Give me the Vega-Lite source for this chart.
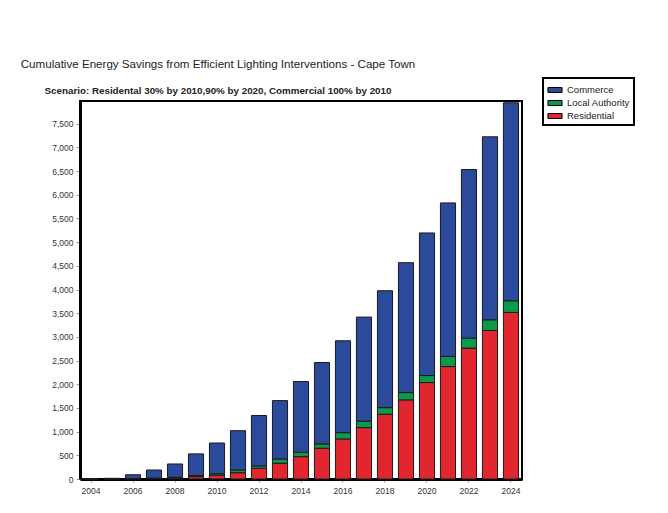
{
  "$schema": "https://vega.github.io/schema/vega-lite/v6.json",
  "autosize": "none",
  "width": 442,
  "height": 378,
  "padding": {"left": 80, "top": 101, "right": 146, "bottom": 34},
  "background": "white",
  "title": {
    "text": "Cumulative Energy Savings from Efficient Lighting Interventions - Cape Town",
    "subtitle": "Scenario: Residental 30% by 2010,90% by 2020, Commercial 100% by 2010",
    "anchor": "middle",
    "dx": -83,
    "offset": -19,
    "font": "Liberation Sans",
    "fontSize": 11.6,
    "fontWeight": "normal",
    "color": "#222",
    "subtitleFont": "Liberation Sans",
    "subtitleFontSize": 9.8,
    "subtitleFontWeight": "bold",
    "subtitleColor": "#222",
    "subtitlePadding": 16
  },
  "data": {
    "values": [
      {"year": 2004, "sector": "Residential", "value": 0},
      {"year": 2004, "sector": "Local Authority", "value": 0},
      {"year": 2004, "sector": "Commerce", "value": 10},
      {"year": 2005, "sector": "Residential", "value": 0},
      {"year": 2005, "sector": "Local Authority", "value": 0},
      {"year": 2005, "sector": "Commerce", "value": 15},
      {"year": 2006, "sector": "Residential", "value": 5},
      {"year": 2006, "sector": "Local Authority", "value": 5},
      {"year": 2006, "sector": "Commerce", "value": 80},
      {"year": 2007, "sector": "Residential", "value": 10},
      {"year": 2007, "sector": "Local Authority", "value": 10},
      {"year": 2007, "sector": "Commerce", "value": 170},
      {"year": 2008, "sector": "Residential", "value": 20},
      {"year": 2008, "sector": "Local Authority", "value": 15},
      {"year": 2008, "sector": "Commerce", "value": 282},
      {"year": 2009, "sector": "Residential", "value": 50},
      {"year": 2009, "sector": "Local Authority", "value": 20},
      {"year": 2009, "sector": "Commerce", "value": 460},
      {"year": 2010, "sector": "Residential", "value": 80},
      {"year": 2010, "sector": "Local Authority", "value": 30},
      {"year": 2010, "sector": "Commerce", "value": 650},
      {"year": 2011, "sector": "Residential", "value": 133},
      {"year": 2011, "sector": "Local Authority", "value": 57},
      {"year": 2011, "sector": "Commerce", "value": 830},
      {"year": 2012, "sector": "Residential", "value": 226},
      {"year": 2012, "sector": "Local Authority", "value": 50},
      {"year": 2012, "sector": "Commerce", "value": 1064},
      {"year": 2013, "sector": "Residential", "value": 332},
      {"year": 2013, "sector": "Local Authority", "value": 90},
      {"year": 2013, "sector": "Commerce", "value": 1233},
      {"year": 2014, "sector": "Residential", "value": 472},
      {"year": 2014, "sector": "Local Authority", "value": 92},
      {"year": 2014, "sector": "Commerce", "value": 1493},
      {"year": 2015, "sector": "Residential", "value": 649},
      {"year": 2015, "sector": "Local Authority", "value": 91},
      {"year": 2015, "sector": "Commerce", "value": 1719},
      {"year": 2016, "sector": "Residential", "value": 846},
      {"year": 2016, "sector": "Local Authority", "value": 133},
      {"year": 2016, "sector": "Commerce", "value": 1939},
      {"year": 2017, "sector": "Residential", "value": 1085},
      {"year": 2017, "sector": "Local Authority", "value": 135},
      {"year": 2017, "sector": "Commerce", "value": 2198},
      {"year": 2018, "sector": "Residential", "value": 1368},
      {"year": 2018, "sector": "Local Authority", "value": 139},
      {"year": 2018, "sector": "Commerce", "value": 2468},
      {"year": 2019, "sector": "Residential", "value": 1670},
      {"year": 2019, "sector": "Local Authority", "value": 155},
      {"year": 2019, "sector": "Commerce", "value": 2742},
      {"year": 2020, "sector": "Residential", "value": 2036},
      {"year": 2020, "sector": "Local Authority", "value": 148},
      {"year": 2020, "sector": "Commerce", "value": 3010},
      {"year": 2021, "sector": "Residential", "value": 2374},
      {"year": 2021, "sector": "Local Authority", "value": 212},
      {"year": 2021, "sector": "Commerce", "value": 3242},
      {"year": 2022, "sector": "Residential", "value": 2763},
      {"year": 2022, "sector": "Local Authority", "value": 212},
      {"year": 2022, "sector": "Commerce", "value": 3558},
      {"year": 2023, "sector": "Residential", "value": 3135},
      {"year": 2023, "sector": "Local Authority", "value": 226},
      {"year": 2023, "sector": "Commerce", "value": 3863},
      {"year": 2024, "sector": "Residential", "value": 3516},
      {"year": 2024, "sector": "Local Authority", "value": 247},
      {"year": 2024, "sector": "Commerce", "value": 4180}
    ]
  },
  "mark": {"type": "bar", "stroke": "#1a1a1a", "strokeWidth": 1},
  "encoding": {
    "x": {
      "field": "year",
      "type": "ordinal",
      "scale": {"paddingInner": 0.28, "paddingOuter": 0.165},
      "axis": {
        "title": null,
        "values": [2004, 2006, 2008, 2010, 2012, 2014, 2016, 2018, 2020, 2022, 2024],
        "labelAngle": 0,
        "labelFont": "Liberation Sans",
        "labelFontSize": 8.5,
        "labelColor": "#333",
        "tickColor": "#999",
        "tickSize": 3,
        "domainColor": "#000",
        "domainWidth": 3,
        "labelPadding": 4
      }
    },
    "y": {
      "field": "value",
      "type": "quantitative",
      "stack": "zero",
      "scale": {"domain": [0, 7980], "nice": false},
      "axis": {
        "title": null,
        "values": [0, 500, 1000, 1500, 2000, 2500, 3000, 3500, 4000, 4500, 5000, 5500, 6000, 6500, 7000, 7500],
        "format": ",.0f",
        "grid": false,
        "labelFont": "Liberation Sans",
        "labelFontSize": 8.5,
        "labelColor": "#333",
        "tickColor": "#999",
        "tickSize": 4,
        "domainColor": "#000",
        "domainWidth": 3,
        "labelPadding": 3
      }
    },
    "color": {
      "field": "sector",
      "type": "nominal",
      "scale": {
        "domain": ["Commerce", "Local Authority", "Residential"],
        "range": ["#2c4a9b", "#0a9a48", "#e2262f"]
      },
      "legend": {
        "title": null,
        "orient": "none",
        "legendX": 463,
        "legendY": -23,
        "strokeColor": "#000",
        "padding": 4,
        "fillColor": "white",
        "symbolType": "M-1,-0.35H1V0.35H-1Z",
        "symbolSize": 200,
        "symbolStrokeColor": "#000",
        "symbolStrokeWidth": 1,
        "labelFont": "Liberation Sans",
        "labelFontSize": 9.5,
        "labelColor": "#222",
        "rowPadding": -2,
        "labelOffset": 4,
        "encode": {"legend": {"update": {"strokeWidth": {"value": 2}}}}
      }
    },
    "order": {"field": "sector", "sort": "descending"}
  },
  "config": {
    "view": {"stroke": "#000", "strokeWidth": 2}
  }
}
